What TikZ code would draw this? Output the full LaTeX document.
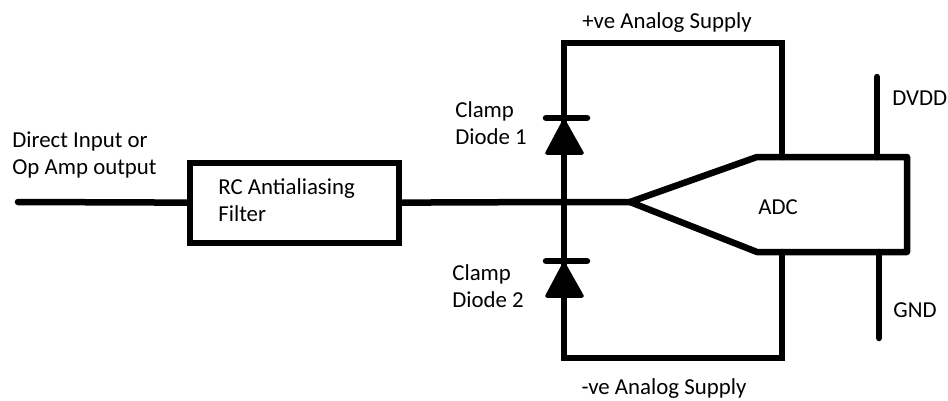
\documentclass[tikz,border=0pt]{standalone}
\usepackage{fontspec}
\setmainfont{Carlito}
\usetikzlibrary{positioning}

\tikzset{
  wire/.style={line width=3.7pt, line cap=round, line join=miter},
  lbl/.style={font=\fontsize{13}{15.6}\selectfont, inner sep=0pt, align=left},
}

\begin{document}
\begin{tikzpicture}[x=0.02cm, y=-0.02cm]
\useasboundingbox (0,0) rectangle (948,400);
% input and filter
\coordinate (in) at (18,202);
\node[wire, draw, minimum width=4.18cm, minimum height=1.6cm, inner sep=0pt] (rc) at (294.5,203) {};
\node[lbl, anchor=west] (rctxt) at (218,200) {RC Antialiasing\\Filter};
\node[lbl, anchor=west] (intxt) at (12,155) {Direct Input or\\Op Amp output};
\draw[wire] (in) -- (rc);
% clamp loop
\coordinate (j) at (564,202);
\coordinate (apex) at (630,202);
\coordinate (tl) at (564,43);
\coordinate (tr) at (782,43);
\coordinate (bl) at (564,358);
\coordinate (br) at (782,358);
\coordinate (a1) at (757,157);
\coordinate (a2) at (907,157);
\coordinate (a3) at (907,252);
\coordinate (a4) at (757,252);
\draw[wire] (rc) -- (j) -- (apex);
\draw[wire] (tr |- a1) -- (tr) -- (tl) -- (bl) -- (br) -- (br |- a4);
\fill (j) circle (4);
% diodes
\foreach \b in {118,261}
{
	\filldraw[line width=2pt, line join=round] (564,\b+3) -- (547,\b+35) -- (582,\b+35) -- cycle;
	\draw[wire] (546,\b) -- (587,\b);
}
\node[lbl, anchor=west] (d1txt) at (455,123) {Clamp\\Diode 1};
\node[lbl, anchor=west] (d2txt) at (452,286) {Clamp\\Diode 2};
% adc
\draw[wire, line join=round] (apex) -- (a1) -- (a2) -- (a3) -- (a4) -- cycle;
\node[lbl, anchor=base west] (adc) at (758,214) {ADC};
\coordinate (dvdd) at (877,77);
\coordinate (gnd) at (879,338);
\draw[wire] (dvdd) -- (dvdd |- a1);
\draw[wire] (gnd) -- (gnd |- a4);
\node[lbl, anchor=base west] (dvddtxt) at (892,105) {DVDD};
\node[lbl, anchor=base west] (gndtxt) at (893,317) {GND};
% supplies
\node[lbl, anchor=base] (pos) at (667,28) {+ve Analog Supply};
\node[lbl, anchor=base] (neg) at (664,394) {-ve Analog Supply};
\end{tikzpicture}
\end{document}
